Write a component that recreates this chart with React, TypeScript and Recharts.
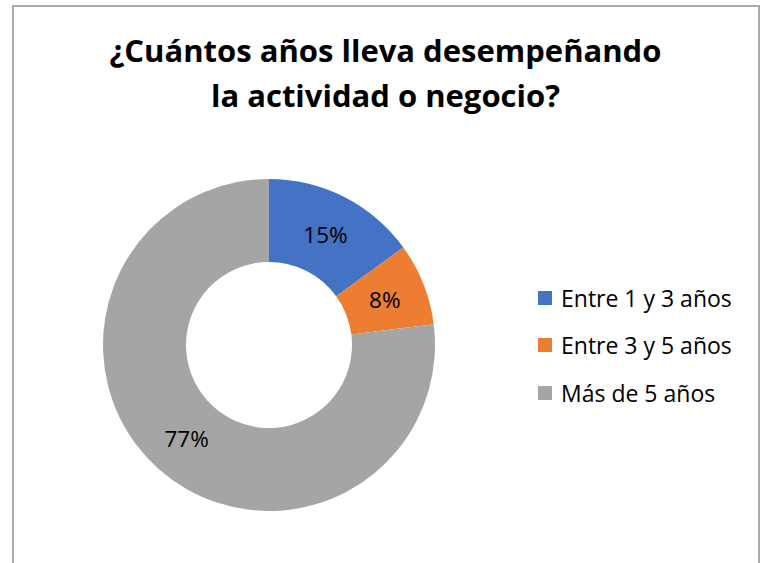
import { PieChart, Pie, Cell, Legend } from 'recharts'

const categories = ['Entre 1 y 3 años', 'Entre 3 y 5 años', 'Más de 5 años']
const shares = [15, 8, 77]
const colors = ['#4472C4', '#ED7D31', '#A5A5A5']
const titleLines = ['¿Cuántos años lleva desempeñando', 'la actividad o negocio?']

const data = categories.map((name, i) => ({ name, value: shares[i] }))

const FONT = '"Open Sans", Calibri, sans-serif'

const RADIAN = Math.PI / 180

function renderLabel(props: any) {
  const { cx, cy, midAngle, innerRadius, outerRadius, value } = props
  const r = (innerRadius + outerRadius) / 2
  const x = cx + r * Math.cos(-midAngle * RADIAN)
  const y = cy + r * Math.sin(-midAngle * RADIAN)
  return (
    <text
      x={x}
      y={y}
      textAnchor="middle"
      dominantBaseline="central"
      fill="#000"
      fontSize={22.5}
      fontFamily={FONT}
    >
      {value}%
    </text>
  )
}

function LegendContent({ payload }: any) {
  return (
    <div style={{ fontFamily: FONT }}>
      {(payload || []).map((entry: any) => (
        <div
          key={entry.value}
          style={{ display: 'flex', alignItems: 'center', height: 47.5 }}
        >
          <span
            style={{
              width: 14,
              height: 14,
              background: entry.color,
              display: 'inline-block',
              marginRight: 9,
            }}
          />
          <span style={{ fontSize: 23, color: '#000', whiteSpace: 'nowrap' }}>
            {entry.value}
          </span>
        </div>
      ))}
    </div>
  )
}

export default function App() {
  return (
    <div
      style={{
        position: 'absolute',
        left: 0,
        top: 0,
        width: 764,
        height: 563,
        overflow: 'hidden',
        background: '#fff',
      }}
    >
      <div
        style={{
          position: 'absolute',
          left: 12,
          top: 5,
          width: 744,
          height: 620,
          border: '2px solid #aaaaaa',
        }}
      />
      <div
        style={{
          position: 'absolute',
          left: 0,
          top: 28,
          width: 771,
          textAlign: 'center',
          fontFamily: FONT,
          fontWeight: 700,
          fontSize: 31,
          lineHeight: '45px',
          color: '#000',
        }}
      >
        {titleLines.map((t) => (
          <div key={t}>{t}</div>
        ))}
      </div>
      <div style={{ position: 'absolute', left: 0, top: 0 }}>
        <PieChart width={764} height={563} margin={{ top: 0, right: 0, bottom: 0, left: 0 }}>
          <Pie
            data={data}
            dataKey="value"
            nameKey="name"
            cx={269}
            cy={345}
            innerRadius={83}
            outerRadius={166}
            startAngle={90}
            endAngle={-270}
            stroke="none"
            label={renderLabel}
            labelLine={false}
            isAnimationActive={false}
          >
            {data.map((d, i) => (
              <Cell key={d.name} fill={colors[i]} />
            ))}
          </Pie>
          <Legend
            layout="vertical"
            content={<LegendContent />}
            wrapperStyle={{ left: 538, top: 274, width: 220 }}
          />
        </PieChart>
      </div>
    </div>
  )
}
